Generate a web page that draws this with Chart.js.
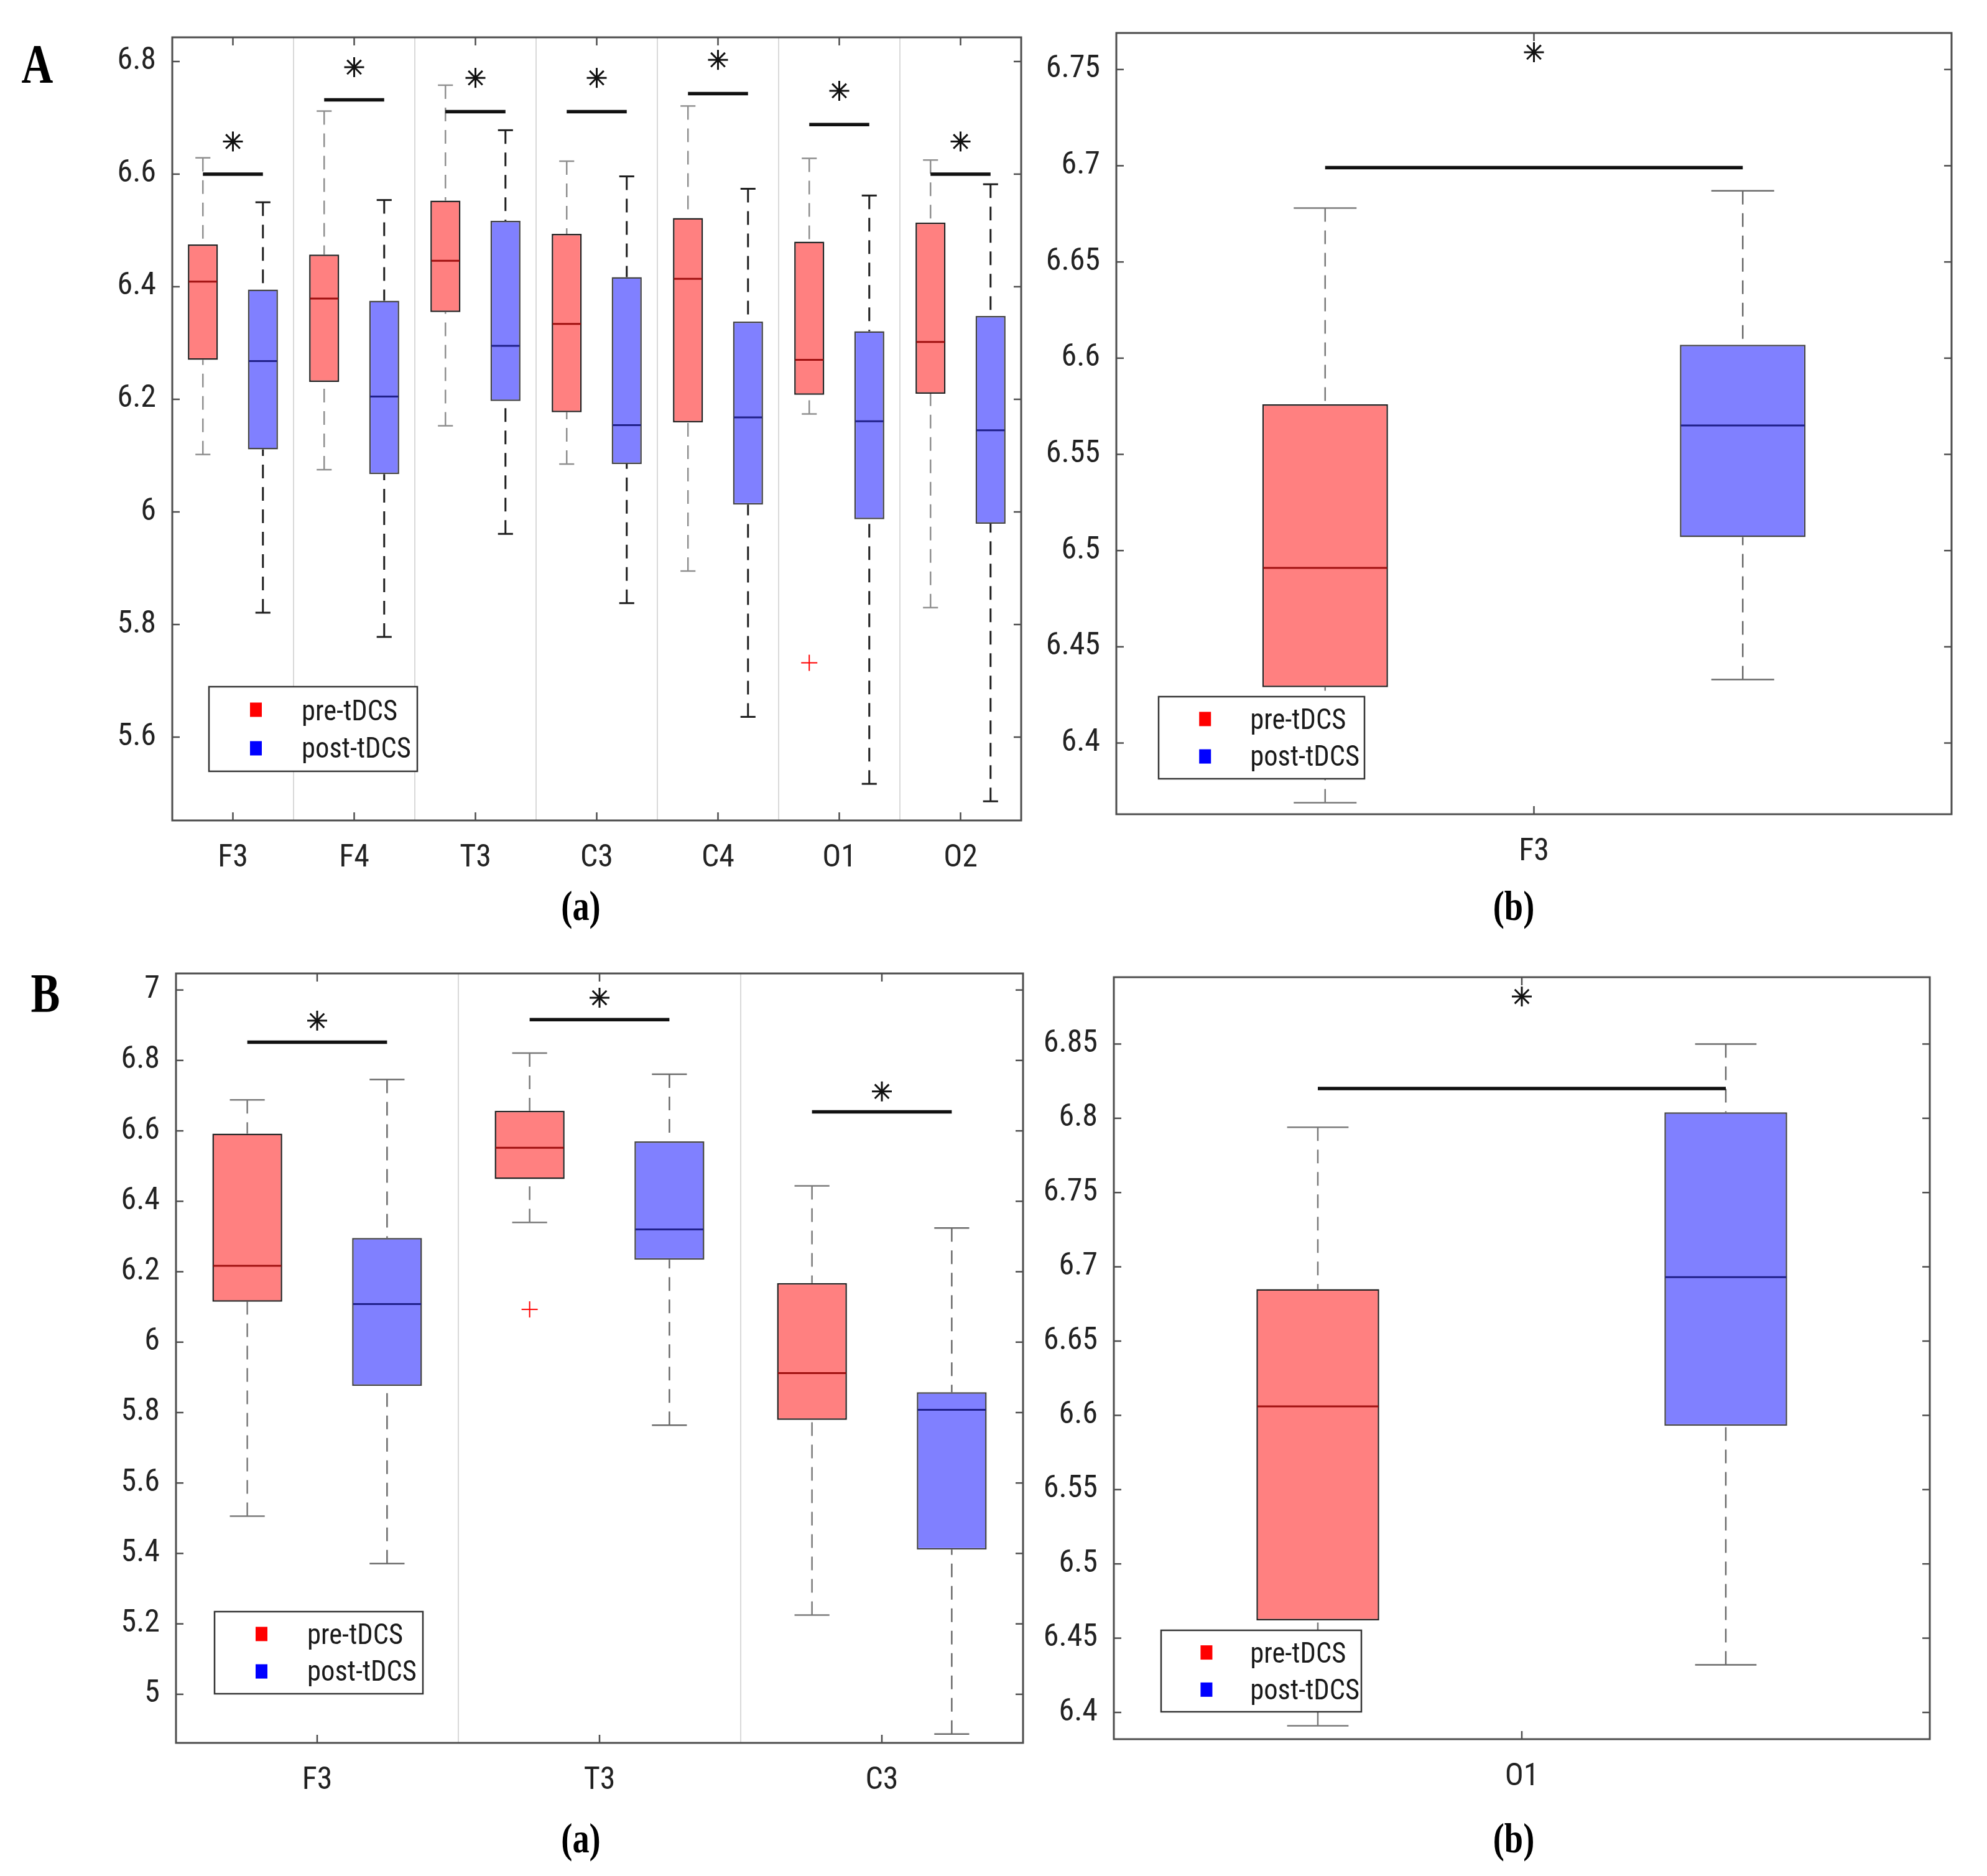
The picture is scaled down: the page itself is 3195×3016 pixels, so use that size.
<!DOCTYPE html>
<html><head><meta charset="utf-8">
<script src="https://cdn.jsdelivr.net/npm/chart.js@4.4.1/dist/chart.umd.min.js"></script>
<style>
html,body{margin:0;padding:0;background:#fff;}
#page{position:relative;width:3195px;height:3016px;background:#fff;overflow:hidden;}
canvas{position:absolute;}
.lab{position:absolute;font-family:"Liberation Serif","DejaVu Serif",serif;font-weight:bold;color:#000;line-height:1;transform:translate(-50%,-50%) scaleX(0.8);white-space:nowrap;}
</style></head><body><div id="page">
<canvas id="cAa"></canvas><canvas id="cAb"></canvas><canvas id="cBa"></canvas><canvas id="cBb"></canvas>
<div class="lab" style="left:60px;top:103px;font-size:88px;">A</div>
<div class="lab" style="left:73px;top:1597px;font-size:88px;">B</div>
<div class="lab" style="left:934px;top:1456px;font-size:68px;">(a)</div>
<div class="lab" style="left:2434px;top:1456px;font-size:68px;">(b)</div>
<div class="lab" style="left:934px;top:2955px;font-size:68px;">(a)</div>
<div class="lab" style="left:2434px;top:2955px;font-size:68px;">(b)</div>
</div>
<script>
// ---------------- DATA ----------------
// Panel A(a)
const catsAa = ['F3','F4','T3','C3','C4','O1','O2'];
const preAaLo  = [6.102,6.075,6.153,6.085,5.895,6.174,5.830];
const preAaQ1  = [6.270,6.231,6.355,6.177,6.159,6.208,6.210];
const preAaMed = [6.409,6.379,6.446,6.334,6.414,6.270,6.302];
const preAaQ3  = [6.475,6.457,6.553,6.494,6.522,6.480,6.514];
const preAaHi  = [6.629,6.712,6.758,6.623,6.721,6.628,6.625];
const preAaOut = [null,null,null,null,null,5.732,null];
const postAaLo  = [5.821,5.778,5.961,5.838,5.636,5.517,5.486];
const postAaQ1  = [6.111,6.067,6.197,6.085,6.013,5.987,5.979];
const postAaMed = [6.268,6.205,6.295,6.154,6.168,6.161,6.145];
const postAaQ3  = [6.395,6.375,6.517,6.417,6.338,6.321,6.348];
const postAaHi  = [6.550,6.554,6.678,6.596,6.574,6.562,6.582];
const postAaOut = [null,null,null,null,null,null,null];
const sigAa  = [6.600,6.732,6.711,6.711,6.743,6.688,6.600];
const starAa = [6.658,6.790,6.771,6.771,6.803,6.748,6.658];
const yTicksAa = [5.6,5.8,6,6.2,6.4,6.6,6.8];
const yLabelsAa = ['5.6','5.8','6','6.2','6.4','6.6','6.8'];
const yRangeAa = [5.452,6.843];

// Panel A(b)
const catsAb = ['F3'];
const preAbLo=[6.369], preAbQ1=[6.429], preAbMed=[6.491], preAbQ3=[6.576], preAbHi=[6.678], preAbOut=[null];
const postAbLo=[6.433], postAbQ1=[6.507], postAbMed=[6.565], postAbQ3=[6.607], postAbHi=[6.687], postAbOut=[null];
const sigAb=[6.699], starAb=[6.759];
const yTicksAb = [6.4,6.45,6.5,6.55,6.6,6.65,6.7,6.75];
const yLabelsAb = ['6.4','6.45','6.5','6.55','6.6','6.65','6.7','6.75'];
const yRangeAb = [6.363,6.769];

// Panel B(a)
const catsBa = ['F3','T3','C3'];
const preBaLo  = [5.506,6.340,5.225];
const preBaQ1  = [6.115,6.463,5.779];
const preBaMed = [6.217,6.552,5.912];
const preBaQ3  = [6.592,6.657,6.168];
const preBaHi  = [6.688,6.821,6.444];
const preBaOut = [null,6.093,null];
const postBaLo  = [5.371,5.764,4.887];
const postBaQ1  = [5.876,6.234,5.411];
const postBaMed = [6.108,6.320,5.808];
const postBaQ3  = [6.296,6.570,5.858];
const postBaHi  = [6.746,6.761,6.324];
const postBaOut = [null,null,null];
const sigBa  = [6.852,6.916,6.654];
const starBa = [6.913,6.978,6.712];
const yTicksBa = [5,5.2,5.4,5.6,5.8,6,6.2,6.4,6.6,6.8,7];
const yLabelsBa = ['5','5.2','5.4','5.6','5.8','6','6.2','6.4','6.6','6.8','7'];
const yRangeBa = [4.862,7.047];

// Panel B(b)
const catsBb = ['O1'];
const preBbLo=[6.391], preBbQ1=[6.462], preBbMed=[6.606], preBbQ3=[6.685], preBbHi=[6.794], preBbOut=[null];
const postBbLo=[6.432], postBbQ1=[6.593], postBbMed=[6.693], postBbQ3=[6.804], postBbHi=[6.850], postBbOut=[null];
const sigBb=[6.820], starBb=[6.882];
const yTicksBb = [6.4,6.45,6.5,6.55,6.6,6.65,6.7,6.75,6.8,6.85];
const yLabelsBb = ['6.4','6.45','6.5','6.55','6.6','6.65','6.7','6.75','6.8','6.85'];
const yRangeBb = [6.382,6.895];

const seriesNames = ['pre-tDCS','post-tDCS'];

// ---------------- DRAWING ----------------
const FAMILY = '"Liberation Sans Narrow","Roboto Condensed","Liberation Sans",Arial,sans-serif';
const TXT = '#222222';

function line(ctx,x1,y1,x2,y2){ctx.beginPath();ctx.moveTo(x1,y1);ctx.lineTo(x2,y2);ctx.stroke();}

function makePlugin(spec){
  return {
    id:'boxes'+spec.key,
    beforeDatasetsDraw(chart){
      const ctx=chart.ctx, ys=chart.scales.y;
      spec.groups.forEach((g,d)=>{
        const meta=chart.getDatasetMeta(d);
        meta.data.forEach((bar,i)=>{
          const x=bar.x, w=bar.width;
          const yq1=ys.getPixelForValue(g.q1[i]), yq3=ys.getPixelForValue(g.q3[i]);
          const ylo=ys.getPixelForValue(g.lo[i]), yhi=ys.getPixelForValue(g.hi[i]);
          ctx.save();
          ctx.strokeStyle=g.style.whisker; ctx.lineWidth=g.style.wlw;
          ctx.setLineDash([22,14]);
          line(ctx,x,yhi,x,yq3); line(ctx,x,ylo,x,yq1);
          ctx.setLineDash([]);
          line(ctx,x-w/4,yhi,x+w/4,yhi); line(ctx,x-w/4,ylo,x+w/4,ylo);
          ctx.restore();
        });
      });
    },
    afterDatasetsDraw(chart){
      const ctx=chart.ctx, ys=chart.scales.y, xs=chart.scales.x;
      spec.groups.forEach((g,d)=>{
        const meta=chart.getDatasetMeta(d);
        meta.data.forEach((bar,i)=>{
          const x=bar.x, w=bar.width;
          const ym=ys.getPixelForValue(g.med[i]);
          ctx.save(); ctx.strokeStyle=g.style.median; ctx.lineWidth=3;
          line(ctx,x-w/2+1.5,ym,x+w/2-1.5,ym);
          if(g.out[i]!==null){
            const yo=ys.getPixelForValue(g.out[i]);
            ctx.strokeStyle='#ff0000'; ctx.lineWidth=2;
            line(ctx,x-13,yo,x+13,yo); line(ctx,x,yo-13,x,yo+13);
          }
          ctx.restore();
        });
      });
      const m0=chart.getDatasetMeta(0), m1=chart.getDatasetMeta(1);
      spec.sig.forEach((v,i)=>{
        const y=ys.getPixelForValue(v);
        ctx.save(); ctx.strokeStyle='#111'; ctx.lineWidth=5.5; ctx.lineCap='butt';
        line(ctx,m0.data[i].x,y,m1.data[i].x,y);
        const sy=ys.getPixelForValue(spec.star[i]), sx=xs.getPixelForTick(i), r=16;
        ctx.lineWidth=3; ctx.strokeStyle='#111';
        for(let k=0;k<4;k++){const a=k*Math.PI/4;line(ctx,sx-r*Math.cos(a),sy-r*Math.sin(a),sx+r*Math.cos(a),sy+r*Math.sin(a));}
        ctx.restore();
      });
    },
    afterDraw(chart){
      const ctx=chart.ctx, a=chart.chartArea, ys=chart.scales.y, xs=chart.scales.x;
      ctx.save();
      ctx.strokeStyle='#4d4d4d'; ctx.lineWidth=3;
      ctx.strokeRect(a.left,a.top,a.right-a.left,a.bottom-a.top);
      ctx.lineWidth=2.5;
      ys.ticks.forEach(t=>{const y=ys.getPixelForValue(t.value);
        line(ctx,a.left,y,a.left+12,y); line(ctx,a.right-12,y,a.right,y);});
      xs.ticks.forEach((t,i)=>{const x=xs.getPixelForTick(i);
        line(ctx,x,a.bottom,x,a.bottom-13); line(ctx,x,a.top,x,a.top+13);});
      // legend
      const L=spec.legend, lx=a.left+L.x, ly=a.top+L.y;
      ctx.fillStyle='#fff'; ctx.fillRect(lx,ly,L.w,L.h);
      ctx.strokeStyle='#333'; ctx.lineWidth=2.5; ctx.strokeRect(lx,ly,L.w,L.h);
      const cols=['#ff0000','#0000ff'], sq=[0.272,0.728], tx=[0.31,0.757];
      ctx.font='46px '+FAMILY; ctx.textBaseline='middle'; ctx.textAlign='left';
      const sc=Math.min(1,154/ctx.measureText(seriesNames[0]).width);
      chart.data.datasets.forEach((ds,k)=>{
        ctx.fillStyle=cols[k];
        ctx.fillRect(lx+L.w*0.197,ly+L.h*sq[k]-11.5,19,23);
        ctx.fillStyle='#1a1a1a';
        ctx.save();
        ctx.translate(lx+L.w*0.445,ly+L.h*tx[k]);
        ctx.scale(sc,1);
        ctx.fillText(ds.label,0,0);
        ctx.restore();
      });
      ctx.restore();
    }
  };
}

function makePanel(spec){
  const cv=document.getElementById(spec.key);
  const PL=150,PT=50,PR=50,PB=110;
  const b=spec.box;
  cv.width=b.w+PL+PR; cv.height=b.h+PT+PB;
  cv.style.left=(b.x-PL)+'px'; cv.style.top=(b.y-PT)+'px';
  cv.style.width=cv.width+'px'; cv.style.height=cv.height+'px';
  const font={family:FAMILY,size:50};
  new Chart(cv,{
    type:'bar',
    data:{labels:spec.cats,datasets:spec.groups.map((g,d)=>({
      label:seriesNames[d],
      data:g.q1.map((v,i)=>[v,g.q3[i]]),
      backgroundColor:g.style.fill,borderColor:g.style.edge,borderWidth:2.5,borderSkipped:false,
      categoryPercentage:spec.catPct,barPercentage:spec.barPct
    }))},
    options:{
      responsive:false,animation:false,devicePixelRatio:1,
      layout:{padding:{left:0,top:PT,right:PR,bottom:0}},
      plugins:{legend:{display:false},tooltip:{enabled:false}},
      scales:{
        x:{type:'category',offset:true,
           grid:{display:spec.sep,offset:true,color:'#d9d9d9',lineWidth:2,drawTicks:false},
           border:{display:false},
           ticks:{font:font,color:TXT,padding:31,maxRotation:0,autoSkip:false},
           afterFit:(s)=>{s.height=PB;}},
        y:{type:'linear',min:spec.range[0],max:spec.range[1],
           grid:{display:false},border:{display:false},
           ticks:{font:font,color:TXT,padding:18,includeBounds:false,
                  callback:(v,i)=>spec.tickLabels[i]},
           afterBuildTicks:(s)=>{s.ticks=spec.ticks.map(v=>({value:v}));},
           afterFit:(s)=>{s.width=PL;}}
      }
    },
    plugins:[makePlugin(spec)]
  });
}

const stPreA ={fill:'#ff8080',edge:'#222',median:'#a01010',whisker:'#8f8f8f',wlw:2.5};
const stPostA={fill:'#8080ff',edge:'#444',median:'#20208a',whisker:'#1e1e1e',wlw:3};
const stPreG ={fill:'#ff8080',edge:'#222',median:'#a01010',whisker:'#7a7a7a',wlw:2.5};
const stPostG={fill:'#8080ff',edge:'#444',median:'#20208a',whisker:'#6a6a6a',wlw:2.5};

makePanel({key:'cAa',box:{x:277,y:60,w:1365,h:1259},cats:catsAa,sep:true,catPct:0.99,barPct:0.5,
  range:yRangeAa,ticks:yTicksAa,tickLabels:yLabelsAa,sig:sigAa,star:starAa,
  legend:{x:59,y:1044,w:335,h:136},
  groups:[{lo:preAaLo,q1:preAaQ1,med:preAaMed,q3:preAaQ3,hi:preAaHi,out:preAaOut,style:stPreA},
          {lo:postAaLo,q1:postAaQ1,med:postAaMed,q3:postAaQ3,hi:postAaHi,out:postAaOut,style:stPostA}]});
makePanel({key:'cAb',box:{x:1795,y:53,w:1343,h:1256},cats:catsAb,sep:false,catPct:1.0,barPct:0.301,
  range:yRangeAb,ticks:yTicksAb,tickLabels:yLabelsAb,sig:sigAb,star:starAb,
  legend:{x:68,y:1067,w:331,h:132},
  groups:[{lo:preAbLo,q1:preAbQ1,med:preAbMed,q3:preAbQ3,hi:preAbHi,out:preAbOut,style:stPreG},
          {lo:postAbLo,q1:postAbQ1,med:postAbMed,q3:postAbQ3,hi:postAbHi,out:postAbOut,style:stPostG}]});
makePanel({key:'cBa',box:{x:283,y:1565,w:1362,h:1237},cats:catsBa,sep:true,catPct:0.99,barPct:0.5,
  range:yRangeBa,ticks:yTicksBa,tickLabels:yLabelsBa,sig:sigBa,star:starBa,
  legend:{x:62,y:1026,w:335,h:132},
  groups:[{lo:preBaLo,q1:preBaQ1,med:preBaMed,q3:preBaQ3,hi:preBaHi,out:preBaOut,style:stPreG},
          {lo:postBaLo,q1:postBaQ1,med:postBaMed,q3:postBaQ3,hi:postBaHi,out:postBaOut,style:stPostG}]});
makePanel({key:'cBb',box:{x:1791,y:1571,w:1312,h:1225},cats:catsBb,sep:false,catPct:1.0,barPct:0.301,
  range:yRangeBb,ticks:yTicksBb,tickLabels:yLabelsBb,sig:sigBb,star:starBb,
  legend:{x:76,y:1050,w:322,h:131},
  groups:[{lo:preBbLo,q1:preBbQ1,med:preBbMed,q3:preBbQ3,hi:preBbHi,out:preBbOut,style:stPreG},
          {lo:postBbLo,q1:postBbQ1,med:postBbMed,q3:postBbQ3,hi:postBbHi,out:postBbOut,style:stPostG}]});
</script>
</body></html>
